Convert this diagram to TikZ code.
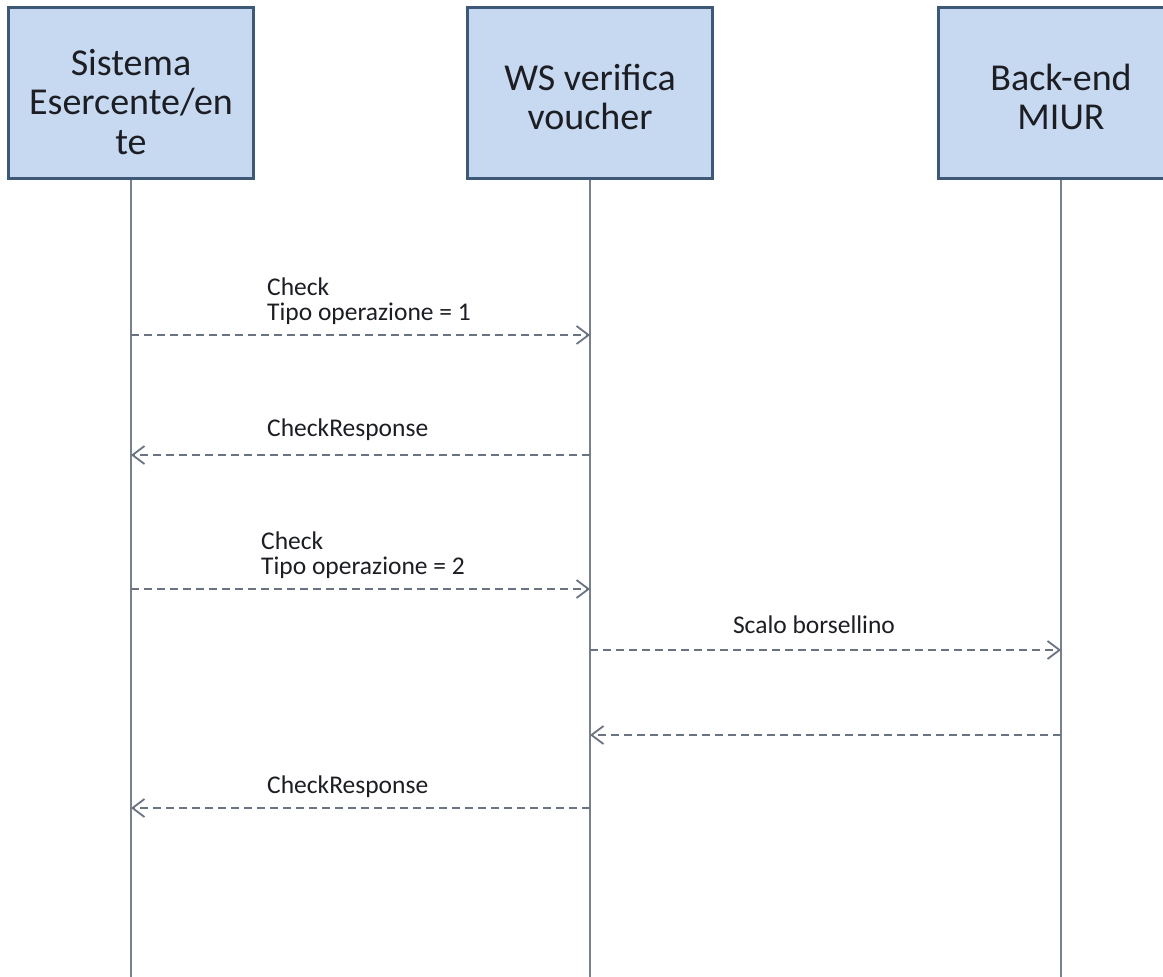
\documentclass[tikz,border=0pt]{standalone}
\usepackage{fontspec}
\setmainfont{Carlito}
\usetikzlibrary{arrows.meta}
\definecolor{boxfill}{RGB}{198,217,241}
\definecolor{boxline}{RGB}{62,88,120}
\definecolor{lifeline}{RGB}{120,128,140}
\definecolor{msgline}{RGB}{105,115,130}
\definecolor{txt}{RGB}{28,30,36}
\tikzset{
  actor/.style={draw=boxline, line width=3pt, fill=boxfill, minimum width=245pt, minimum height=171pt, inner sep=0pt},
  actortext/.style={text=txt, align=center, font=\fontsize{38}{39.5}\selectfont},
  life/.style={draw=lifeline, line width=2pt},
  msg/.style={draw=msgline, line width=2pt, dash pattern=on 8pt off 5pt, -{Straight Barb[length=12pt,width=18pt,line width=1.8pt]}},
  lbl/.style={text=txt, inner sep=0pt, font=\fontsize{25.5}{25}\selectfont},
}
\begin{document}
\begin{tikzpicture}[x=1pt,y=-1pt]
\clip (0,0) rectangle (1163,977);
\fill[white] (0,0) rectangle (1163,977);
% actors
\node[actor] (A) at (131,92.5) {};
\node[actor] (B) at (590,92.5) {};
\node[actor] (C) at (1061,92.5) {};
\node[actortext] (At) at (131,102) {Sistema\\Esercente/en\\te};
\node[actortext] (Bt) at (590,97) {WS verifica\\voucher};
\node[actortext] (Ct) at (1061,97) {Back-end\\MIUR};
% lifelines
\coordinate (Ae) at (131,990);
\coordinate (Be) at (590,990);
\coordinate (Ce) at (1061,990);
\draw[life] (A.south) -- (Ae);
\draw[life] (B.south) -- (Be);
\draw[life] (C.south) -- (Ce);
% message anchor points
\coordinate (a1) at (131,335); \coordinate (b1) at (590,335);
\coordinate (a2) at (131,455); \coordinate (b2) at (590,455);
\coordinate (a3) at (131,589); \coordinate (b3) at (590,589);
\coordinate (b4) at (590,650); \coordinate (c4) at (1061,650);
\coordinate (b5) at (590,735); \coordinate (c5) at (1061,735);
\coordinate (a6) at (131,808); \coordinate (b6) at (590,808);
% messages
\draw[msg] (a1) -- (b1);
\draw[msg] (b2) -- (a2);
\draw[msg] (a3) -- (b3);
\draw[msg] (b4) -- (c4);
\draw[msg] (c5) -- (b5);
\draw[msg] (b6) -- (a6);
% labels
\node[lbl, anchor=base west] (l1a) at (267,295) {Check};
\node[lbl, anchor=base west] (l1b) at (267,320) {Tipo operazione = 1};
\node[lbl, anchor=base west] (l2) at (267,436) {CheckResponse};
\node[lbl, anchor=base west] (l3a) at (261,549) {Check};
\node[lbl, anchor=base west] (l3b) at (261,574) {Tipo operazione = 2};
\node[lbl, anchor=base] (l4) at (814,633) {Scalo borsellino};
\node[lbl, anchor=base west] (l6) at (267,793) {CheckResponse};
\end{tikzpicture}
\end{document}
